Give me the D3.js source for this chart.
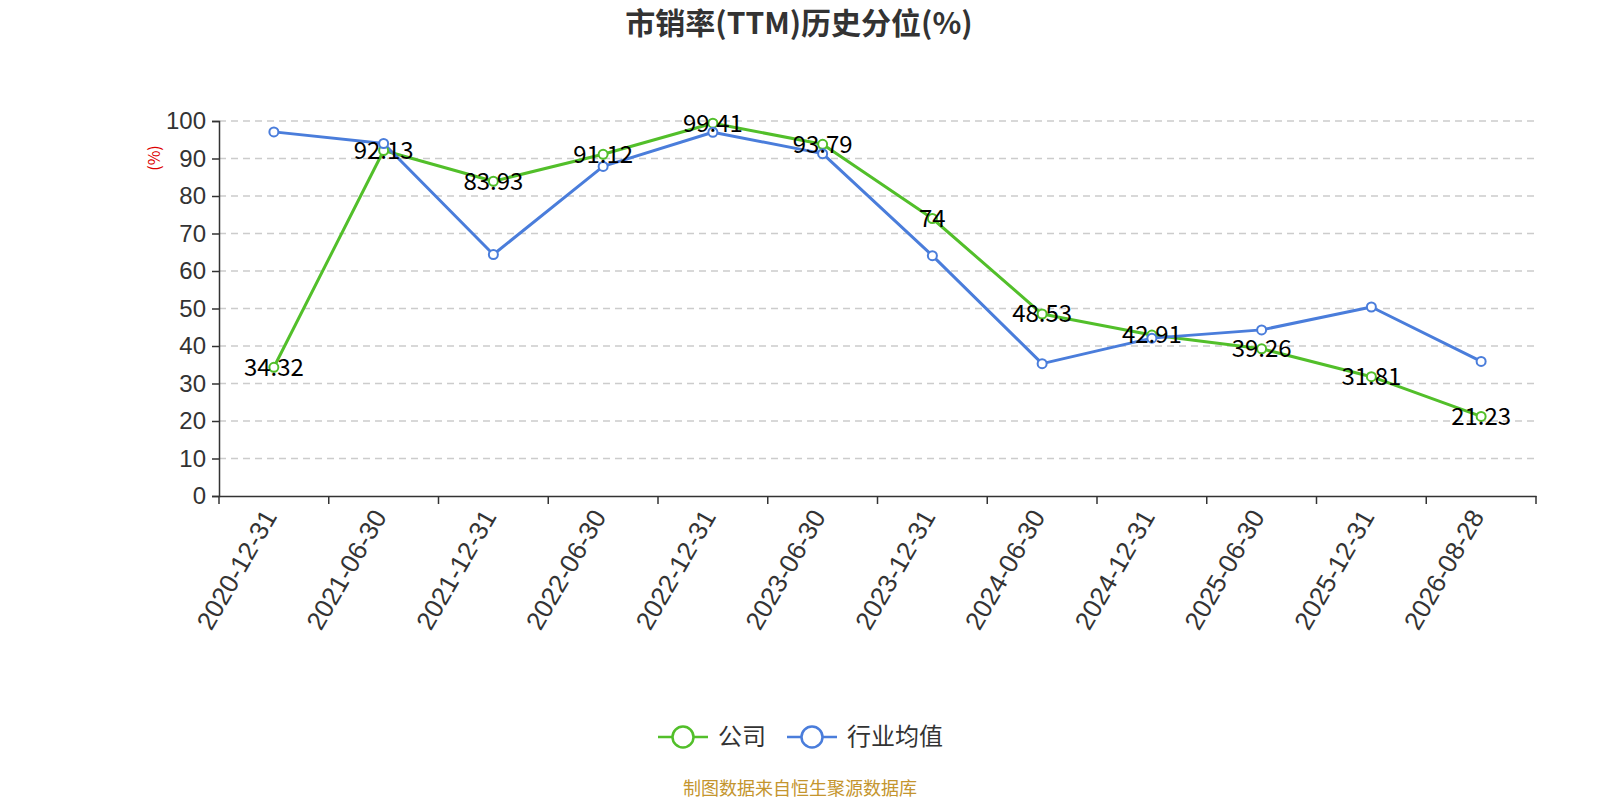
<!DOCTYPE html>
<html>
<head>
<meta charset="utf-8">
<script src="https://cdn.jsdelivr.net/npm/d3@7/dist/d3.min.js"></script>
<style>
  body{margin:0;background:#fff;}
  svg{font-family:"Noto Sans CJK SC","Noto Sans",sans-serif;}
</style>
</head>
<body>
<svg id="chart"></svg>
<script>
// data
var dates=["2020-12-31","2021-06-30","2021-12-31","2022-06-30","2022-12-31","2023-06-30","2023-12-31","2024-06-30","2024-12-31","2025-06-30","2025-12-31","2026-08-28"];
var company=[34.32,92.13,83.93,91.12,99.41,93.79,74,48.53,42.91,39.26,31.81,21.23];
var industry=[97.1,94.0,64.4,87.9,97.0,91.3,64.1,35.3,42.1,44.3,50.4,35.9];
var yTicks=[0,10,20,30,40,50,60,70,80,90,100];
var seriesNames=["公司","行业均值"];

var svgWidth=1600,svgHeight=800;
var margin={top:121,right:64,bottom:304,left:219};
var width=svgWidth-margin.left-margin.right;
var height=svgHeight-margin.top-margin.bottom;
var colors=["#52bf2a","#4a7ddb"];

var svg=d3.select('#chart')
  .attr('width',svgWidth)
  .attr('height',svgHeight);

svg.append('text')
  .attr('x',799).attr('y',34)
  .attr('text-anchor','middle')
  .attr('font-size',30).attr('font-weight','bold')
  .attr('fill','#333')
  .text('市销率(TTM)历史分位(%)');

var g=svg.append('g')
  .attr('transform','translate('+margin.left+','+margin.top+')');

var x=d3.scaleBand().domain(dates).range([0,width]);
var y=d3.scaleLinear().domain([0,100]).range([height,0]);

// grid
g.selectAll('.grid').data(yTicks.filter(function(d){return d>0}))
  .enter().append('line')
  .attr('x1',0).attr('x2',width)
  .attr('y1',function(d){return y(d)}).attr('y2',function(d){return y(d)})
  .attr('stroke','#ccc').attr('stroke-width',1.3)
  .attr('stroke-dasharray','7,5');

// y axis
var ya=g.append('g')
  .call(d3.axisLeft(y).tickValues(yTicks).tickSize(7).tickPadding(6));
ya.selectAll('text').attr('font-size',24).attr('fill','#333');
ya.selectAll('line,path').attr('stroke','#333').attr('stroke-width',1.5);

svg.append('text')
  .attr('transform','translate(160,158) rotate(-90)')
  .attr('text-anchor','middle')
  .attr('font-size',16).attr('fill','#d00')
  .text('(%)');

// x axis
var xa=g.append('g')
  .attr('transform','translate(0,'+height+')')
  .call(d3.axisBottom(x).tickSize(0).tickFormat(''));
xa.selectAll('path').attr('stroke','#333').attr('stroke-width',1.5);
var bounds=dates.map(function(d){return x(d)}).concat([width]);
xa.selectAll('.bt').data(bounds).enter().append('line')
  .attr('x1',function(d){return d}).attr('x2',function(d){return d})
  .attr('y1',0).attr('y2',8)
  .attr('stroke','#333').attr('stroke-width',1.5);
xa.selectAll('.xl').data(dates).enter().append('text')
  .attr('transform',function(d){return 'translate('+(x(d)+x.bandwidth()/2-4)+',16) rotate(-60)'})
  .attr('text-anchor','end')
  .attr('dy','0.35em')
  .attr('font-size',26).attr('fill','#333')
  .text(function(d){return d});

var line=d3.line()
  .x(function(d,i){return x(dates[i])+x.bandwidth()/2})
  .y(function(d){return y(d)});

[company,industry].forEach(function(vals,k){
  g.append('path')
    .datum(vals)
    .attr('fill','none')
    .attr('stroke',colors[k])
    .attr('stroke-width',3)
    .attr('stroke-linejoin','round')
    .attr('d',line);
});
[company,industry].forEach(function(vals,k){
  g.selectAll('.p'+k).data(vals).enter().append('circle')
    .attr('cx',function(d,i){return x(dates[i])+x.bandwidth()/2})
    .attr('cy',function(d){return y(d)})
    .attr('r',4.5)
    .attr('fill','#fff')
    .attr('stroke',colors[k])
    .attr('stroke-width',2);
});

// labels for company
g.selectAll('.lbl').data(company).enter().append('text')
  .attr('x',function(d,i){return x(dates[i])+x.bandwidth()/2})
  .attr('y',function(d){return y(d)})
  .attr('dy','0.35em')
  .attr('text-anchor','middle')
  .attr('font-size',24).attr('fill','#000')
  .text(function(d){return d});

// legend
var lg=svg.append('g').attr('transform','translate(0,737)');
var lx=[658,787];
seriesNames.forEach(function(n,k){
  lg.append('line')
    .attr('x1',lx[k]).attr('x2',lx[k]+50)
    .attr('y1',0).attr('y2',0)
    .attr('stroke',colors[k]).attr('stroke-width',2.5);
  lg.append('circle')
    .attr('cx',lx[k]+25).attr('cy',0).attr('r',10.5)
    .attr('fill','#fff').attr('stroke',colors[k]).attr('stroke-width',2.5);
  lg.append('text')
    .attr('x',lx[k]+60).attr('y',0).attr('dy','0.35em')
    .attr('font-size',24).attr('fill','#333')
    .text(n);
});

svg.append('text')
  .attr('x',800).attr('y',795)
  .attr('text-anchor','middle')
  .attr('font-size',18).attr('fill','#c4952e')
  .text('制图数据来自恒生聚源数据库');
</script>
</body>
</html>
